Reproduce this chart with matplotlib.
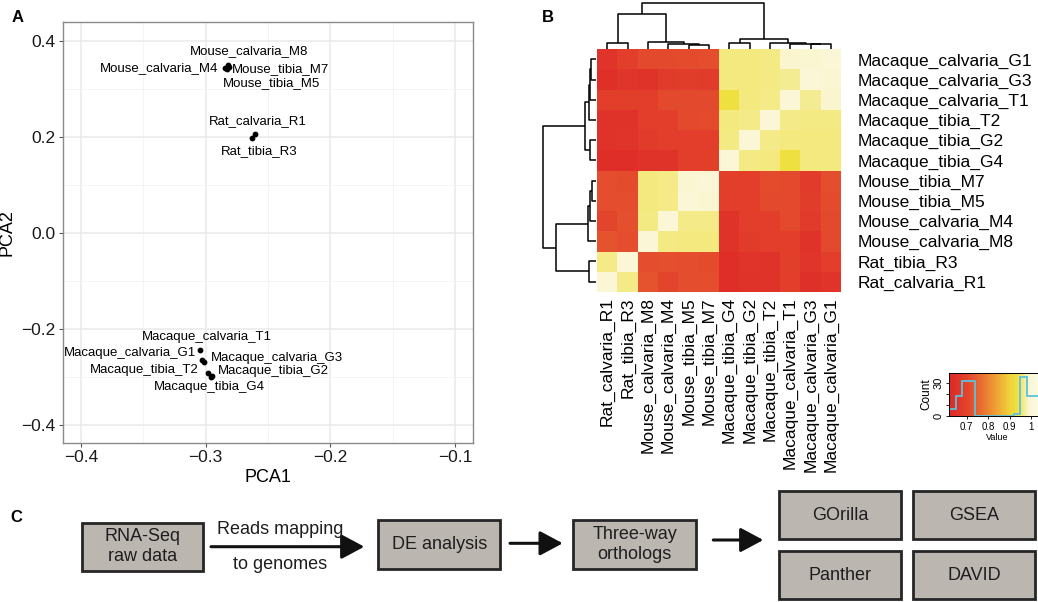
import numpy as np
import matplotlib
matplotlib.use("Agg")
import matplotlib.pyplot as plt
from matplotlib.colors import LinearSegmentedColormap, Normalize
from matplotlib.patches import Rectangle, FancyArrowPatch

plt.rcParams['font.family'] = ['Liberation Sans', 'DejaVu Sans']

# ---- panel A: PCA ----
samples = ['Mouse_calvaria_M8', 'Mouse_calvaria_M4', 'Mouse_tibia_M7', 'Mouse_tibia_M5',
           'Rat_calvaria_R1', 'Rat_tibia_R3',
           'Macaque_calvaria_T1', 'Macaque_calvaria_G1', 'Macaque_calvaria_G3',
           'Macaque_tibia_T2', 'Macaque_tibia_G2', 'Macaque_tibia_G4']
pca1 = [-0.2825, -0.2845, -0.2810, -0.2832, -0.2608, -0.2630,
        -0.3026, -0.3042, -0.3010, -0.2984, -0.2948, -0.2958]
pca2 = [0.350, 0.344, 0.3465, 0.341, 0.2058, 0.1975,
        -0.2646, -0.2437, -0.2694, -0.2910, -0.2985, -0.3002]

# label placement (repelled text positions)
label_x = [-0.2656, -0.2896, -0.2790, -0.2474, -0.2578, -0.2571,
           -0.2987, -0.3075, -0.2960, -0.3053, -0.2900, -0.2973]
label_y = [0.380, 0.345, 0.342, 0.3125, 0.2333, 0.1715,
           -0.2174, -0.2490, -0.2597, -0.2860, -0.2880, -0.3200]
label_ha = ['center', 'right', 'left', 'center', 'center', 'center',
            'center', 'right', 'left', 'right', 'left', 'center']

# ---- panel B: correlation heatmap ----
leaves = ['Rat_calvaria_R1', 'Rat_tibia_R3', 'Mouse_calvaria_M8', 'Mouse_calvaria_M4',
          'Mouse_tibia_M5', 'Mouse_tibia_M7', 'Macaque_tibia_G4', 'Macaque_tibia_G2',
          'Macaque_tibia_T2', 'Macaque_calvaria_T1', 'Macaque_calvaria_G3', 'Macaque_calvaria_G1']
corr = [
    # R1    R3     M8     M4     M5     M7     G4     G2     T2     T1     G3     G1
    [1.000, 0.965, 0.730, 0.705, 0.720, 0.720, 0.638, 0.660, 0.658, 0.690, 0.642, 0.662],
    [0.965, 1.000, 0.720, 0.722, 0.718, 0.716, 0.640, 0.662, 0.660, 0.692, 0.664, 0.688],
    [0.730, 0.720, 1.000, 0.963, 0.962, 0.962, 0.655, 0.685, 0.688, 0.690, 0.660, 0.712],
    [0.705, 0.722, 0.963, 1.000, 0.965, 0.964, 0.658, 0.688, 0.690, 0.712, 0.685, 0.714],
    [0.720, 0.718, 0.962, 0.965, 1.000, 0.990, 0.690, 0.688, 0.714, 0.712, 0.686, 0.716],
    [0.720, 0.716, 0.962, 0.964, 0.990, 1.000, 0.692, 0.690, 0.715, 0.713, 0.684, 0.718],
    [0.638, 0.640, 0.655, 0.658, 0.690, 0.692, 1.000, 0.963, 0.962, 0.935, 0.962, 0.962],
    [0.660, 0.662, 0.685, 0.688, 0.688, 0.690, 0.963, 1.000, 0.964, 0.961, 0.962, 0.961],
    [0.658, 0.660, 0.688, 0.690, 0.714, 0.715, 0.962, 0.964, 1.000, 0.965, 0.963, 0.963],
    [0.690, 0.692, 0.690, 0.712, 0.712, 0.713, 0.935, 0.961, 0.965, 1.000, 0.968, 0.988],
    [0.642, 0.664, 0.660, 0.685, 0.686, 0.684, 0.962, 0.962, 0.963, 0.968, 1.000, 0.990],
    [0.662, 0.688, 0.712, 0.714, 0.716, 0.718, 0.962, 0.961, 0.963, 0.988, 0.990, 1.000],
]
# hierarchical clustering merges: (child a, child b, height); new nodes numbered from 12
merges = [(4, 5, 0.023), (3, 12, 0.035), (2, 13, 0.047), (0, 1, 0.042), (15, 14, 0.250),
          (10, 11, 0.030), (9, 17, 0.035), (8, 18, 0.042), (6, 7, 0.037), (20, 19, 0.066),
          (16, 21, 0.330)]

# ---- panel C: workflow ----
steps = ['RNA-Seq\nraw data', 'DE analysis', 'Three-way\northologs']
tools = ['GOrilla', 'GSEA', 'Panther', 'DAVID']
arrow_text = 'Reads mapping\n\nto genomes'

W, H = 1038, 602
fig = plt.figure(figsize=(W / 100, H / 100), dpi=100)


def px_axes(x0, y0, x1, y1):
    return fig.add_axes([x0 / W, 1 - y1 / H, (x1 - x0) / W, (y1 - y0) / H])


# ---------- A ----------
ax = px_axes(62.7, 22, 473, 443)
ax.set_xlim(-0.4147, -0.0856)
ax.set_ylim(-0.4375, 0.44)
ax.set_xticks([-0.4, -0.3, -0.2, -0.1])
ax.set_xticks([-0.35, -0.25, -0.15], minor=True)
ax.set_yticks([-0.4, -0.2, 0.0, 0.2, 0.4])
ax.set_yticks([-0.3, -0.1, 0.1, 0.3], minor=True)
ax.grid(which='major', color='#EBEBEB', lw=1.2)
ax.grid(which='minor', color='#F4F4F4', lw=0.7)
ax.set_axisbelow(True)
ax.tick_params(which='major', length=3, color='#555555', labelsize=12.5,
               labelcolor='#1a1a1a', pad=2)
ax.tick_params(which='minor', length=0)
for s in ax.spines.values():
    s.set_color('#8a8a8a')
    s.set_linewidth(1)
ax.scatter(pca1, pca2, s=10, color='black', zorder=3)
for i, name in enumerate(samples):
    ax.text(label_x[i], label_y[i], name, ha=label_ha[i], va='center', fontsize=9.5)
ax.set_xlabel('PCA1', fontsize=13, labelpad=3)
ax.set_ylabel('PCA2', fontsize=13, labelpad=4)

# ---------- B ----------
vmin, vmax = 0.62, 1.06
stops = [(0.62, '#DD2A26'), (0.66, '#E0342A'), (0.70, '#E3432C'), (0.74, '#E65A30'),
         (0.80, '#EC8433'), (0.86, '#F1B136'), (0.90, '#F0D23A'), (0.935, '#EEE040'),
         (0.965, '#F4EB88'), (0.99, '#FBF6D2'), (1.06, '#FFFDF0')]
cmap = LinearSegmentedColormap.from_list(
    'heat', [((v - vmin) / (vmax - vmin), c) for v, c in stops])
norm = Normalize(vmin, vmax)
C = np.array(corr)
n = len(leaves)

hm = px_axes(597.3, 49.3, 841.3, 291.7)
hm.imshow(C, origin='lower', cmap=cmap, norm=norm, aspect='auto', interpolation='nearest')
hm.set_xlim(-0.5, n - 0.5)
hm.set_ylim(-0.5, n - 0.5)
hm.set_xticks(range(n))
hm.set_xticklabels(leaves, rotation=90, fontsize=12.5)
hm.set_yticks(range(n))
hm.set_yticklabels(leaves, fontsize=12.5)
hm.yaxis.tick_right()
hm.tick_params(axis='x', length=0, pad=4)
hm.tick_params(axis='y', length=0, pad=12)
for s in hm.spines.values():
    s.set_visible(False)


def dendro_segments(merges, n):
    pos = {i: float(i) for i in range(n)}
    hgt = {i: 0.0 for i in range(n)}
    segs = []
    for k, (a, b, h) in enumerate(merges):
        segs.append(([pos[a], pos[a], pos[b], pos[b]], [hgt[a], h, h, hgt[b]]))
        pos[n + k] = (pos[a] + pos[b]) / 2
        hgt[n + k] = h
    return segs


root_h = max(m[2] for m in merges)
segs = dendro_segments(merges, n)

cd = px_axes(597.3, 2.7, 841.3, 48.5)
for xs, ys in segs:
    cd.plot(xs, ys, color='black', lw=1.1, clip_on=False, solid_capstyle='butt')
cd.set_xlim(-0.5, n - 0.5)
cd.set_ylim(0, root_h)
cd.axis('off')

rd = px_axes(543.3, 49.3, 596.0, 291.7)
for xs, ys in segs:
    rd.plot(ys, xs, color='black', lw=1.1, clip_on=False, solid_capstyle='butt')
rd.set_ylim(-0.5, n - 0.5)
rd.set_xlim(root_h, 0)
rd.axis('off')

# colour key with histogram
kx0 = 949.3
kx1 = kx0 + (vmax - vmin) * 215.7
key = px_axes(kx0, 373.3, kx1, 416)
grad = np.linspace(vmin, vmax, 200)[None, :]
key.imshow(grad, cmap=cmap, norm=norm, aspect='auto', extent=[vmin, vmax, 0, 39],
           interpolation='nearest')
edges = np.append(np.arange(0.62, 0.99, 0.03), vmax)
counts, _ = np.histogram(C.ravel(), bins=edges)
key.stairs(counts, edges, color='#5BC3DC', lw=1.3)
key.set_xlim(vmin, vmax)
key.set_ylim(0, 39)
key.set_xticks([0.7, 0.8, 0.9, 1.0])
key.set_xticklabels(['0.7', '0.8', '0.9', '1'], fontsize=7)
key.set_yticks([0, 10, 20, 30])
key.set_yticklabels(['0', '', '', '30'], fontsize=8, rotation=90, va='center')
key.tick_params(length=2.5, pad=1.5, width=0.6)
key.set_xlabel('Value', fontsize=6.5, labelpad=1)
key.set_ylabel('Count', fontsize=8.5, labelpad=1)
for s in key.spines.values():
    s.set_linewidth(0.7)

# ---------- C ----------
fc = fig.add_axes([0, 0, 1, 1])
fc.set_xlim(0, W)
fc.set_ylim(H, 0)
fc.axis('off')

box_fc, box_ec = '#BCB6B1', '#262626'
step_boxes = [(81.7, 522.7, 203.3, 571), (378.3, 520.3, 500, 569), (573.3, 520, 696, 569.3)]
tool_boxes = [(779.3, 491, 900.7, 539.3), (913.3, 491, 1035, 539.3),
              (779.3, 550.7, 900.7, 599.3), (913.3, 550.7, 1035, 599.3)]
for label, (x0, y0, x1, y1) in zip(steps + tools, step_boxes + tool_boxes):
    fc.add_patch(Rectangle((x0, y0), x1 - x0, y1 - y0, facecolor=box_fc,
                           edgecolor=box_ec, lw=2))
    fc.text((x0 + x1) / 2, (y0 + y1) / 2, label, ha='center', va='center',
            fontsize=13, color='#1e1e1e', linespacing=1.25)

arrows = [(211, 364.3, 546.7), (510, 562.7, 543.3), (713.3, 763.3, 540)]
for xa, xb, ya in arrows:
    fc.add_patch(FancyArrowPatch((xa, ya), (xb, ya),
                                 arrowstyle='-|>,head_length=14,head_width=7.5',
                                 mutation_scale=1, lw=2.2, color='#111111',
                                 shrinkA=0, shrinkB=0))
fc.text(280, 547, arrow_text, ha='center', va='center', fontsize=13,
        color='#1e1e1e', linespacing=1.05)

# panel letters
for letter, (x, y) in zip(['A', 'B', 'C'], [(17.5, 17), (548, 18), (16.5, 517.5)]):
    fig.text(x / W, 1 - y / H, letter, fontsize=12, fontweight='bold',
             ha='center', va='center')

fig.savefig('out.png', dpi=100)
